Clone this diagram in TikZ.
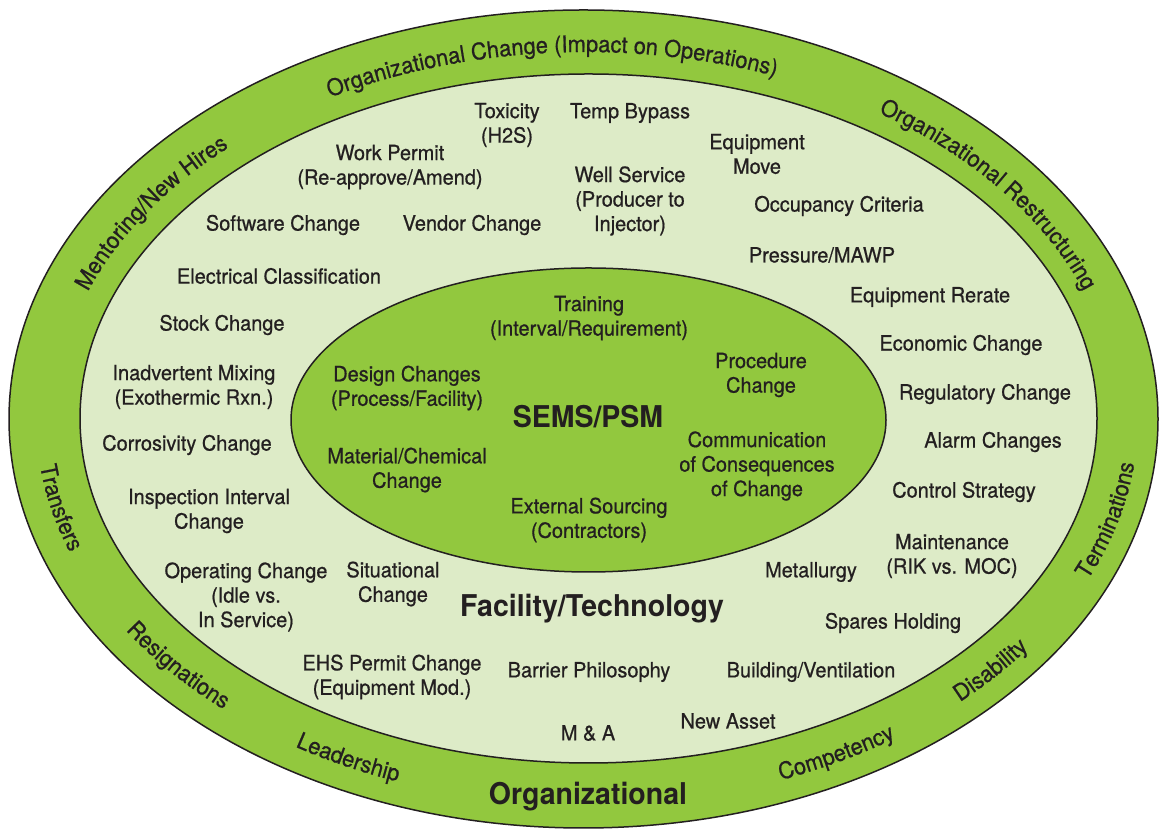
\documentclass[tikz,border=0pt]{standalone}
\usepackage{fontspec}
\setmainfont{TeX Gyre Heros}[FakeStretch=0.95]
\newfontfamily\inkfont{TeX Gyre Heros}[FakeStretch=0.95, FakeBold=0.7]
\usetikzlibrary{decorations.text}
\definecolor{ringgreen}{HTML}{92C83E}
\definecolor{palegreen}{HTML}{DDEBC7}
\definecolor{inktext}{HTML}{231F20}
\newcommand\ringfont{\inkfont\fontsize{23}{26}\selectfont}

\begin{document}
\begin{tikzpicture}
		[x=1pt, y=1pt,
		item/.style ={text=inktext, align=center, inner sep=0pt, font=\inkfont\fontsize{21}{24.5}\selectfont},
		heading/.style ={item, font=\bfseries\fontsize{30}{34}\selectfont},
		band/.style ={draw=inktext, line width=1.5pt},
		ringtext/.style ={decorate, decoration={text along path, text align=center, text={|\color{inktext}\ringfont|#1}}},
		]
		\useasboundingbox (0,0) rectangle (1159,829);

		\draw[band, fill=ringgreen] (583.5,410) ellipse [x radius=574.5, y radius=409];
		\draw[band, fill=palegreen] (588.5,410.5) ellipse [x radius=508.5, y radius=344.5];
		\draw[band, fill=ringgreen] (588.5,409) ellipse [x radius=297.5, y radius=152];

		\coordinate (C) at (586,410);
		\path[ringtext={Organizational Change (Impact on Operations)}] ([shift={(144:531 and 367)}]C) arc[start angle=144, end angle=45, x radius=531, y radius=367];
		\path[ringtext={Organizational Restructuring}] ([shift={(66:531 and 367)}]C) arc[start angle=66, end angle=8, x radius=531, y radius=367];
		\path[ringtext={Mentoring/New Hires}] ([shift={(178:531 and 367)}]C) arc[start angle=178, end angle=118, x radius=531, y radius=367];
		\path[ringtext={Transfers}] ([shift={(173:550 and 386)}]C) arc[start angle=173, end angle=213, x radius=550, y radius=386];
		\path[ringtext={Resignations}] ([shift={(200:550 and 386)}]C) arc[start angle=200, end angle=240, x radius=550, y radius=386];
		\path[ringtext={Leadership}] ([shift={(226:550 and 386)}]C) arc[start angle=226, end angle=261, x radius=550, y radius=386];
		\path[ringtext={Competency}] ([shift={(281:550 and 386)}]C) arc[start angle=281, end angle=315, x radius=550, y radius=386];
		\path[ringtext={Disability}] ([shift={(302:550 and 386)}]C) arc[start angle=302, end angle=336, x radius=550, y radius=386];
		\path[ringtext={Terminations}] ([shift={(325:552 and 386)}]C) arc[start angle=325, end angle=365, x radius=552, y radius=386];
		\draw (588,32) node[heading] (ORG) {Organizational};

		\draw (507,704) node[item] (TOX) {Toxicity\\(H2S)};
		\draw (630,716) node[item] (TB) {Temp Bypass};
		\draw (390,662) node[item] (WP) {Work Permit\\(Re-approve/Amend)};
		\draw (757,675) node[item] (EM) {Equipment\\Move};
		\draw (630,628) node[item] (WS) {Well Service\\(Producer to\\Injector)};
		\draw (283,604) node[item] (SC) {Software Change};
		\draw (472,604) node[item] (VC) {Vendor Change};
		\draw (839,623) node[item] (OC) {Occupancy Criteria};
		\draw (279,553) node[item] (EC) {Electrical Classification};
		\draw (822,574) node[item] (PM) {Pressure/MAWP};
		\draw (222,504) node[item] (STC) {Stock Change};
		\draw (930,532) node[item] (ER) {Equipment Rerate};
		\draw (961,484) node[item] (ECO) {Economic Change};
		\draw (194,442) node[item] (IM) {Inadvertent Mixing\\(Exothermic Rxn.)};
		\draw (985,435) node[item] (RC) {Regulatory Change};
		\draw (187,384) node[item] (CC) {Corrosivity Change};
		\draw (993,387) node[item] (AC) {Alarm Changes};
		\draw (209,318) node[item] (II) {Inspection Interval\\Change};
		\draw (964,337) node[item] (CS) {Control Strategy};
		\draw (246,232) node[item] (OPC) {Operating Change\\(Idle vs.\\In Service)};
		\draw (393,245) node[item] (SIT) {Situational\\Change};
		\draw (952,273) node[item] (MNT) {Maintenance\\(RIK vs. MOC)};
		\draw (811,257) node[item] (MET) {Metallurgy};
		\draw (592,220) node[heading] (FT) {Facility/Technology};
		\draw (893,206) node[item] (SH) {Spares Holding};
		\draw (392,152) node[item] (EHS) {EHS Permit Change\\(Equipment Mod.)};
		\draw (589,157) node[item] (BP) {Barrier Philosophy};
		\draw (811,157) node[item] (BV) {Building/Ventilation};
		\draw (728,108) node[item] (NA) {New Asset};
		\draw (588,96) node[item] (MA) {M \& A};

		\draw (589,511) node[item] (TRN) {Training\\(Interval/Requirement)};
		\draw (761,454) node[item] (PC) {Procedure\\Change};
		\draw (407,441) node[item] (DC) {Design Changes\\(Process/Facility)};
		\draw (588,412) node[heading] (SEMS) {SEMS/PSM};
		\draw (757,363) node[item] (COM) {Communication\\of Consequences\\of Change};
		\draw (407,359) node[item] (MC) {Material/Chemical\\Change};
		\draw (589,309) node[item] (ES) {External Sourcing\\(Contractors)};
	\end{tikzpicture}
\end{document}
